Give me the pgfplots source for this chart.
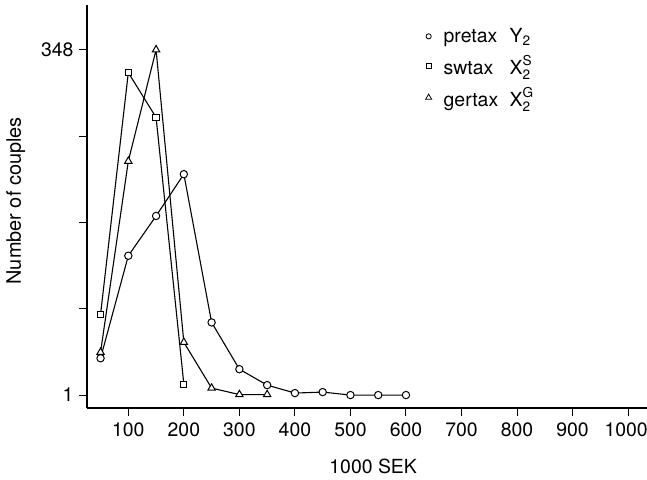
\documentclass[border=0pt]{standalone}
\usepackage{fontspec}
\setmainfont{TeX Gyre Heros}
\usepackage{amsmath}
\usepackage{pgfplots}
\pgfplotsset{compat=1.18}
\newcommand{\ff}{\fontsize{19.5}{23}\selectfont}
\begin{document}
\begin{tikzpicture}
\begin{axis}[
  scale only axis, width=560bp, height=403bp,
  xmin=25.6, xmax=1034, ymin=-12, ymax=393,
  axis lines=left, axis line style={-, line width=1.3bp},
  tick align=outside, major tick length=8bp,
  tick style={line width=1bp, black},
  xtick={100,200,...,1000},
  xticklabels={100,200,300,400,500,600,700,800,900,\hspace*{-4bp}1000},
  ytick={1,87.75,174.5,261.25,348}, yticklabels={1,,,,348},
  scaled x ticks=false,
  tick label style={font=\ff},
  xticklabel style={yshift=-3bp},
  yticklabel style={xshift=-2bp},
  xlabel={1000 SEK},
  ylabel={Number of couples},
  xlabel style={font=\ff, at={(axis description cs:0.511,-0.144)}, anchor=center},
  ylabel style={font=\fontsize{20}{24}\selectfont, at={(axis description cs:-0.127,0.514)}, anchor=center},
  legend style={at={(axis description cs:0.599,0.952)}, anchor=north west,
    draw=none, fill=none, font=\ff, row sep=7.5bp},
  legend cell align=left,
]
\addlegendimage{black, only marks, mark=o, mark size=2.6bp, line width=0.8bp}
\addlegendentry{\hspace*{10bp}\makebox[66bp][l]{pretax}$\text{Y}_{\text{2}}$}
\addlegendimage{black, only marks, mark=square, mark size=2.5bp, line width=0.8bp}
\addlegendentry{\hspace*{10bp}\makebox[66bp][l]{swtax}$\text{X}_{\text{2}}^{\text{S}}$}
\addlegendimage{black, only marks, mark=triangle, mark size=3.5bp, line width=0.8bp}
\addlegendentry{\hspace*{10bp}\makebox[66bp][l]{gertax}$\text{X}_{\text{2}}^{\text{G}}$}

\addplot[black, line width=1.1bp, mark=*, mark size=3.7bp, mark options={fill=white, line width=1bp}, forget plot]
coordinates {(50,38) (100,141) (150,181) (200,223) (250,74) (300,27) (350,11) (400,3) (450,4) (500,1) (550,1) (600,1)};
\addplot[black, line width=1.1bp, mark=square*, mark size=3.1bp, mark options={fill=white, line width=1bp}, forget plot]
coordinates {(50,82) (100,325) (150,280) (200,12)};
\addplot[black, line width=1.1bp, mark=triangle*, mark size=4.3bp, mark options={fill=white, line width=1bp}, forget plot]
coordinates {(50,44) (100,236) (150,348) (200,54) (250,8) (300,1.5) (350,1.5)};
\end{axis}
\pgfresetboundingbox
\path (-87bp,-72bp) rectangle (560bp,408bp);
\end{tikzpicture}
\end{document}
